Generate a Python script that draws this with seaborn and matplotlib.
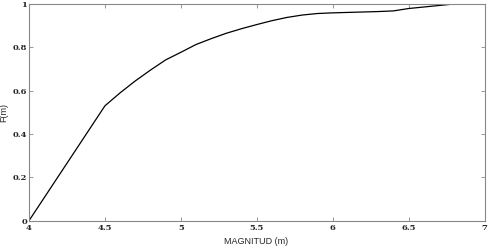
import numpy as np
import pandas as pd
import matplotlib.pyplot as plt
import seaborn as sns

magnitud = [4.0, 4.5, 4.6, 4.7, 4.8, 4.9, 5.0, 5.1, 5.2, 5.3, 5.4, 5.5, 5.6, 5.7,
            5.8, 5.9, 6.0, 6.1, 6.2, 6.3, 6.4, 6.5, 6.6, 6.7, 6.8]
f_m = [0.0, 0.53, 0.59, 0.645, 0.695, 0.742, 0.777, 0.813, 0.84, 0.865, 0.886,
       0.905, 0.923, 0.938, 0.949, 0.956, 0.959, 0.961, 0.963, 0.965, 0.968,
       0.979, 0.986, 0.993, 1.0]
xticks = [4, 4.5, 5, 5.5, 6, 6.5, 7]
xticklabels = ["4", "4.5", "5", "5.5", "6", "6.5", "7"]
yticks = [0, 0.2, 0.4, 0.6, 0.8, 1]
yticklabels = ["0", "0.2", "0.4", "0.6", "0.8", "1"]

df = pd.DataFrame({"m": magnitud, "F": f_m})

sns.set_style("ticks")
fig = plt.figure(figsize=(4.88, 2.48), dpi=100)
ax = fig.add_axes([0.0594, 0.110, 0.9336, 0.874])
sns.lineplot(x="m", y="F", data=df, ax=ax, color="black", linewidth=0.9)

ax.set_xlim(4, 7)
ax.set_ylim(0, 1)
ax.set_xticks(xticks)
ax.set_xticklabels(xticklabels, fontfamily="DejaVu Serif", fontweight="bold", fontsize=6)
ax.set_yticks(yticks)
ax.set_yticklabels(yticklabels, fontfamily="DejaVu Serif", fontweight="bold", fontsize=6)
ax.tick_params(direction="in", length=3, width=0.6, color="#888888",
               top=True, right=True)
ax.tick_params(axis="x", pad=2.5)
ax.tick_params(axis="y", pad=1.5)
for s in ax.spines.values():
    s.set_color("#888888")
    s.set_linewidth(0.8)
ax.set_xlabel("MAGNITUD (m)", fontsize=6.5, fontfamily="Liberation Sans")
ax.set_ylabel("F(m)", fontsize=6.5, fontfamily="Liberation Sans")
ax.xaxis.set_label_coords(0.498, -0.075)
ax.yaxis.set_label_coords(-0.046, 0.5)

fig.savefig("out.png", dpi=100)
